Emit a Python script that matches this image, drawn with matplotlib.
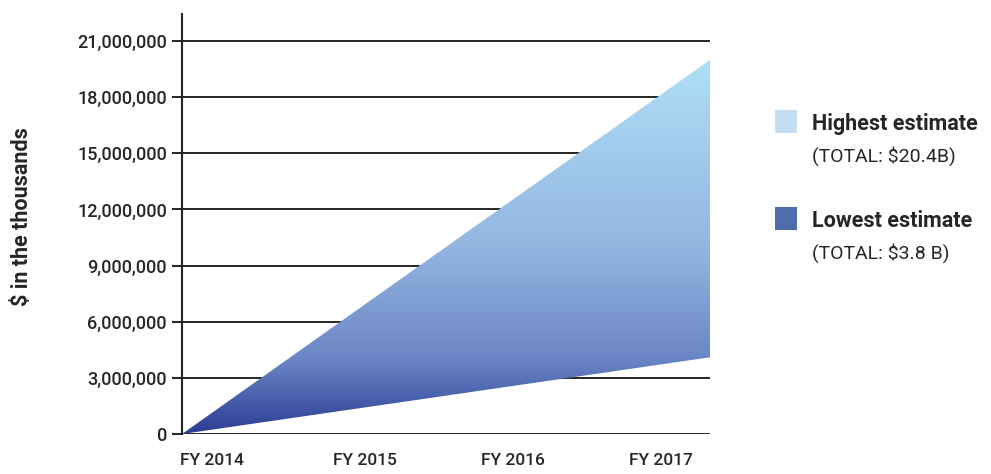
"""
Estimated cost range FY 2014 - FY 2017, gradient-filled area between the
lowest and highest estimate.
"""

import numpy as np
import matplotlib
matplotlib.use("Agg")
import matplotlib.pyplot as plt
from matplotlib.colors import LinearSegmentedColormap
from matplotlib.patches import Rectangle

plt.rcParams["font.family"] = ["Roboto", "DejaVu Sans"]

# ─── data ───────────────────────────────────────────────────────────────────
years      = ["FY 2014", "FY 2015", "FY 2016", "FY 2017"]
period     = [0.0, 1.0]                 # start and end of the estimate period
highest    = [0, 20_000_000]            # $ thousands, cumulative
lowest     = [0, 4_100_000]
yticks     = [0, 3_000_000, 6_000_000, 9_000_000, 12_000_000,
              15_000_000, 18_000_000, 21_000_000]
legend_rows = [
    ("Highest estimate", "(TOTAL: $20.4B)", "#c4ddf3"),
    ("Lowest estimate",  "(TOTAL: $3.8 B)", "#4e6ea9"),
]
# ────────────────────────────────────────────────────────────────────────────

DARK = "#262626"

fig = plt.figure(figsize=(9.91, 4.74), dpi=100)
ax = fig.add_axes([0.1837, 0.0844, 0.7165 - 0.1837, 0.9705 - 0.0844])

ax.set_xlim(period[0], period[1])
ax.set_ylim(0, 22_450_000)

# gridlines under the area
for v in yticks:
    ax.axhline(v, color=DARK, lw=1.4, zorder=1)

# area with vertical gradient, clipped to the band
band = ax.fill_between(period, lowest, highest, color="none", lw=0, zorder=2)
cmap = LinearSegmentedColormap.from_list(
    "est", [(0.0, "#2b3e94"), (0.2, "#6b86c5"), (0.5, "#93b6e1"), (1.0, "#b0dff6")]
)
grad = np.linspace(0, 1, 256).reshape(-1, 1)
img = ax.imshow(grad, cmap=cmap, origin="lower", aspect="auto",
                extent=[period[0], period[1], 0, max(highest)], zorder=2,
                interpolation="bicubic")
img.set_clip_path(band.get_paths()[0], transform=ax.transData)

ax.set_yticks(yticks)
ax.set_yticklabels([f"{v:,}" for v in yticks], fontsize=13, color=DARK,
                   fontweight="medium")
ax.tick_params(axis="y", length=7, width=1.4, color=DARK, pad=4)

ax.set_xticks([0.057, 0.347, 0.626, 0.907])
ax.set_xticklabels(years, fontsize=12.5, color=DARK, fontweight="medium")
ax.tick_params(axis="x", length=0, pad=14)

for s in ["top", "right", "bottom"]:
    ax.spines[s].set_visible(False)
ax.spines["left"].set_color(DARK)
ax.spines["left"].set_linewidth(1.5)

fig.text(22 / 991, 1 - 217 / 474, "$ in the thousands", rotation=90, ha="center",
         va="center", fontsize=15.5, fontweight="bold", color=DARK)

# legend drawn by hand
for i, (title, total, color) in enumerate(legend_rows):
    top = 110 + i * 97
    fig.patches.append(Rectangle((775 / 991, 1 - (top + 23) / 474), 22 / 991, 23 / 474,
                                 transform=fig.transFigure, facecolor=color, lw=0))
    fig.text(812 / 991, 1 - (top + 14) / 474, title, fontsize=15.5, fontweight="bold",
             color=DARK, va="center")
    fig.text(812 / 991, 1 - (top + 46) / 474, total, fontsize=14, color=DARK, va="center")

fig.savefig("out.png", dpi=100)
